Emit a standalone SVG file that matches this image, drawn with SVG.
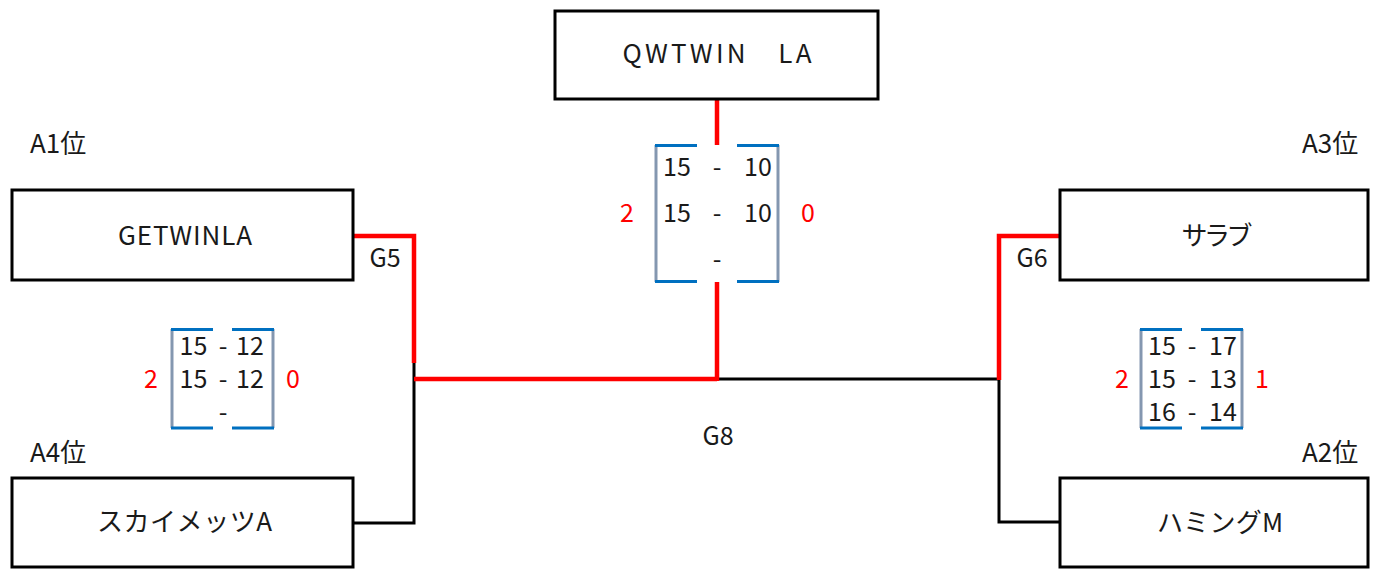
<svg xmlns="http://www.w3.org/2000/svg" width="1378" height="569" viewBox="0 0 1378 569">
<style>
text{font-family:"Noto Sans CJK JP","Noto Sans",sans-serif;font-size:26px;fill:#1a1a1a}
.n{font-size:26px;text-anchor:middle}
.s{font-size:25px;text-anchor:middle}
.r{fill:#ff0000}
.box{fill:#fff;stroke:#000;stroke-width:3}
.bl{stroke:#000;stroke-width:3;fill:none}
.rd{stroke:#ff0000;stroke-width:4.5;fill:none}
.br{stroke:#0070c0;stroke-width:3;fill:none}
.bg{stroke:#8497b0;stroke-width:3;fill:none}
</style>
<rect width="1378" height="569" fill="#fff"/>
<g id="connectors">
<polyline class="bl" points="353,523 414,523 414,363"/>
<polyline class="bl" points="717,379 999,379 999,522 1060,522"/>
<polyline class="rd" points="353,236 414,236 414,363"/>
<line class="rd" x1="414" y1="379" x2="717" y2="379"/>
<line class="rd" x1="717" y1="100" x2="717" y2="145"/>
<line class="rd" x1="717" y1="282" x2="717" y2="381"/>
<polyline class="rd" points="1060,236 999,236 999,380"/>
</g>
<g id="node-qwtwin"><rect class="box" x="555" y="11" width="323" height="88"/><text class="n" x="717" y="63" textLength="189" lengthAdjust="spacing">QWTWIN　LA</text></g>
<g id="node-getwinla"><rect class="box" x="12" y="190" width="341" height="90"/><text class="n" x="185" y="245" textLength="134" lengthAdjust="spacing">GETWINLA</text></g>
<g id="node-skymets"><rect class="box" x="12" y="478" width="341" height="89"/><text class="n" x="184.5" y="531" textLength="175" lengthAdjust="spacing">スカイメッツA</text></g>
<g id="node-sarabu"><rect class="box" x="1060" y="190" width="308" height="90"/><text class="n" x="1217" y="245" textLength="71" lengthAdjust="spacing">サラブ</text></g>
<g id="node-hamingu"><rect class="box" x="1060" y="478" width="308" height="89"/><text class="n" x="1220" y="532" textLength="126" lengthAdjust="spacing">ハミングM</text></g>
<g id="labels">
<text x="30" y="153">A1位</text>
<text x="30" y="462">A4位</text>
<text x="1302" y="153">A3位</text>
<text x="1302" y="462">A2位</text>
<text class="s" x="385" y="267">G5</text>
<text class="s" x="1032" y="267">G6</text>
<text class="s" x="718" y="445">G8</text>
</g>
<g id="score-g8">
<polyline class="bg" points="656,145 656,282"/><polyline class="bg" points="778,145 778,282"/>
<line class="br" x1="655" y1="145.5" x2="697" y2="145.5"/><line class="br" x1="737" y1="145.5" x2="779" y2="145.5"/>
<line class="br" x1="655" y1="281.5" x2="697" y2="281.5"/><line class="br" x1="737" y1="281.5" x2="779" y2="281.5"/>
<text class="s" x="677" y="176">15</text><text class="s" x="717" y="176">-</text><text class="s" x="758" y="176">10</text>
<text class="s" x="677" y="222">15</text><text class="s" x="717" y="222">-</text><text class="s" x="758" y="222">10</text>
<text class="s" x="717" y="268">-</text>
<text class="s r" x="627" y="222">2</text><text class="s r" x="808" y="222">0</text>
</g>
<g id="score-g5">
<line class="bg" x1="172" y1="329" x2="172" y2="428"/><line class="bg" x1="273" y1="329" x2="273" y2="428"/>
<line class="br" x1="171" y1="329.5" x2="213" y2="329.5"/><line class="br" x1="232" y1="329.5" x2="274" y2="329.5"/>
<line class="br" x1="171" y1="428" x2="213" y2="428"/><line class="br" x1="232" y1="428" x2="274" y2="428"/>
<text class="s" x="193.5" y="355">15</text><text class="s" x="223" y="355">-</text><text class="s" x="250" y="355">12</text>
<text class="s" x="193.5" y="388">15</text><text class="s" x="223" y="388">-</text><text class="s" x="250" y="388">12</text>
<text class="s" x="223" y="421">-</text>
<text class="s r" x="151" y="388">2</text><text class="s r" x="293" y="388">0</text>
</g>
<g id="score-g6">
<line class="bg" x1="1141" y1="329" x2="1141" y2="428"/><line class="bg" x1="1242" y1="329" x2="1242" y2="428"/>
<line class="br" x1="1140" y1="329.5" x2="1182" y2="329.5"/><line class="br" x1="1201" y1="329.5" x2="1243" y2="329.5"/>
<line class="br" x1="1140" y1="428" x2="1182" y2="428"/><line class="br" x1="1201" y1="428" x2="1243" y2="428"/>
<text class="s" x="1162" y="355">15</text><text class="s" x="1192" y="355">-</text><text class="s" x="1223" y="355">17</text>
<text class="s" x="1162" y="388">15</text><text class="s" x="1192" y="388">-</text><text class="s" x="1223" y="388">13</text>
<text class="s" x="1162" y="421">16</text><text class="s" x="1192" y="421">-</text><text class="s" x="1223" y="421">14</text>
<text class="s r" x="1122" y="388">2</text><text class="s r" x="1262" y="388">1</text>
</g>
</svg>
